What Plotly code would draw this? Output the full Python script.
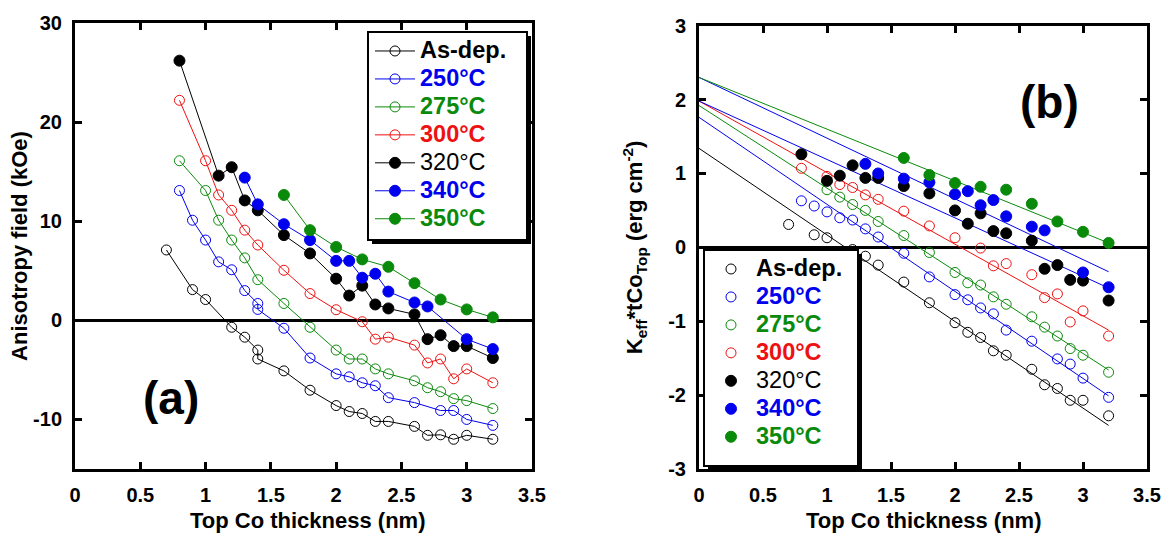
import plotly.graph_objects as go

FONT = "Liberation Sans, Arial, sans-serif"
BLACK, BLUE, GREEN, RED = "#000000", "#0000ee", "#0a8a0a", "#ee1111"

# ---------------- series meta ----------------
series_names = ["As-dep.", "250°C", "275°C", "300°C", "320°C", "340°C", "350°C"]
series_colors = [BLACK, BLUE, GREEN, RED, BLACK, BLUE, GREEN]
series_filled = [False, False, False, False, True, True, True]
series_bold = [True, True, True, True, False, True, True]

# ---------------- panel (a): anisotropy field (kOe) ----------------
a_x_asdep = [0.7, 0.9, 1.0, 1.2, 1.3, 1.4, 1.4, 1.6, 1.8, 2.0, 2.1, 2.2, 2.3, 2.4, 2.6, 2.7, 2.8, 2.9, 3.0, 3.2]
a_y_asdep = [7.1, 3.1, 2.1, -0.7, -1.7, -3.0, -3.9, -5.1, -7.05, -8.6, -9.2, -9.4, -10.2, -10.2, -10.7, -11.6, -11.55, -12.0, -11.6, -12.0]
a_x_250 = [0.8, 0.9, 1.0, 1.1, 1.2, 1.3, 1.4, 1.4, 1.6, 1.8, 2.0, 2.1, 2.2, 2.3, 2.4, 2.6, 2.8, 2.9, 3.0, 3.2]
a_y_250 = [13.1, 10.1, 8.1, 5.9, 5.1, 3.0, 1.7, 1.1, -0.8, -3.8, -5.4, -5.7, -6.3, -6.6, -7.8, -8.3, -9.1, -9.1, -10.0, -10.6]
a_x_275 = [0.8, 1.0, 1.1, 1.2, 1.3, 1.4, 1.6, 1.8, 2.0, 2.1, 2.2, 2.3, 2.4, 2.6, 2.7, 2.8, 2.9, 3.0, 3.2]
a_y_275 = [16.1, 13.1, 10.1, 8.1, 6.3, 4.1, 1.7, -0.7, -3.0, -3.9, -3.9, -4.9, -5.4, -6.1, -6.8, -7.2, -7.9, -8.1, -8.9]
a_x_300 = [0.8, 1.0, 1.1, 1.2, 1.3, 1.4, 1.6, 1.8, 2.0, 2.2, 2.3, 2.4, 2.6, 2.7, 2.8, 2.9, 3.0, 3.2]
a_y_300 = [22.2, 16.1, 12.65, 11.1, 9.1, 7.6, 5.05, 2.7, 1.07, -0.14, -1.9, -1.7, -2.5, -4.3, -3.9, -5.9, -4.9, -6.3]
a_x_320 = [0.8, 1.1, 1.2, 1.3, 1.4, 1.6, 1.8, 2.0, 2.1, 2.2, 2.3, 2.4, 2.6, 2.7, 2.8, 2.9, 3.0, 3.2]
a_y_320 = [26.2, 14.6, 15.45, 12.1, 11.1, 8.6, 6.75, 4.2, 2.5, 3.5, 1.6, 1.2, 0.6, -1.9, -1.5, -2.6, -2.6, -3.8]
a_x_340 = [1.3, 1.4, 1.6, 1.8, 2.0, 2.1, 2.2, 2.3, 2.4, 2.6, 2.7, 3.0, 3.2]
a_y_340 = [14.4, 11.7, 9.7, 8.1, 6.0, 6.0, 4.3, 4.7, 2.9, 1.8, 1.4, -1.9, -2.9]
a_x_350 = [1.6, 1.8, 2.0, 2.2, 2.4, 2.6, 2.8, 3.0, 3.2]
a_y_350 = [12.65, 9.1, 7.4, 6.15, 5.4, 3.75, 2.1, 1.1, 0.3]

# ---------------- panel (b): Keff * tCo (erg cm^-2) ----------------
b_x_asdep = [0.7, 0.9, 1.0, 1.2, 1.3, 1.4, 1.6, 1.8, 2.0, 2.1, 2.2, 2.3, 2.4, 2.6, 2.7, 2.8, 2.9, 3.0, 3.2]
b_y_asdep = [0.31, 0.17, 0.13, -0.03, -0.12, -0.24, -0.47, -0.75, -1.02, -1.15, -1.22, -1.40, -1.46, -1.65, -1.86, -1.91, -2.07, -2.07, -2.28]
b_x_250 = [0.8, 0.9, 1.0, 1.1, 1.2, 1.3, 1.4, 1.6, 1.8, 2.0, 2.1, 2.2, 2.3, 2.4, 2.6, 2.8, 2.9, 3.0, 3.2]
b_y_250 = [0.63, 0.56, 0.48, 0.40, 0.37, 0.25, 0.14, -0.08, -0.40, -0.64, -0.71, -0.82, -0.90, -1.12, -1.27, -1.51, -1.58, -1.77, -2.03]
b_x_275 = [1.0, 1.1, 1.2, 1.3, 1.4, 1.6, 1.8, 2.0, 2.1, 2.2, 2.3, 2.4, 2.6, 2.7, 2.8, 2.9, 3.0, 3.2]
b_y_275 = [0.78, 0.68, 0.58, 0.50, 0.35, 0.16, -0.07, -0.34, -0.48, -0.51, -0.67, -0.77, -0.94, -1.08, -1.20, -1.37, -1.46, -1.69]
b_x_300 = [0.8, 1.0, 1.1, 1.2, 1.3, 1.4, 1.6, 1.8, 2.0, 2.2, 2.3, 2.4, 2.6, 2.7, 2.8, 2.9, 3.0, 3.2]
b_y_300 = [1.07, 0.96, 0.85, 0.81, 0.71, 0.65, 0.49, 0.29, 0.13, -0.01, -0.25, -0.22, -0.37, -0.68, -0.63, -1.01, -0.86, -1.20]
b_x_320 = [0.8, 1.0, 1.1, 1.2, 1.3, 1.4, 1.6, 1.8, 2.0, 2.1, 2.2, 2.3, 2.4, 2.6, 2.7, 2.8, 2.9, 3.0, 3.2]
b_y_320 = [1.26, 0.90, 0.97, 1.11, 0.94, 0.94, 0.83, 0.73, 0.50, 0.32, 0.46, 0.22, 0.19, 0.09, -0.29, -0.24, -0.44, -0.45, -0.72]
b_x_340 = [1.3, 1.4, 1.6, 1.8, 2.0, 2.1, 2.2, 2.3, 2.4, 2.6, 2.7, 3.0, 3.2]
b_y_340 = [1.13, 1.00, 0.93, 0.88, 0.72, 0.76, 0.57, 0.64, 0.42, 0.28, 0.23, -0.34, -0.54]
b_x_350 = [1.6, 1.8, 2.0, 2.2, 2.4, 2.6, 2.8, 3.0, 3.2]
b_y_350 = [1.21, 0.98, 0.87, 0.82, 0.78, 0.59, 0.35, 0.21, 0.06]

# linear fits drawn in panel (b): value at x=0 and at x=3.2
fit_x = [0.0, 3.2]
fit_start = [1.34, 1.76, 1.92, 1.98, 1.98, 2.30, 2.30]
fit_end = [-2.41, -2.01, -1.66, -1.12, -0.55, -0.33, 0.06]
fit_colors = [BLACK, BLUE, GREEN, RED, BLUE, BLUE, GREEN]

# ticks
x_ticks = [0, 0.5, 1, 1.5, 2, 2.5, 3, 3.5]
x_ticktext = ["0", "0.5", "1", "1.5", "2", "2.5", "3", "3.5"]
a_y_ticks = [-10, 0, 10, 20, 30]
a_y_ticktext = ["-10", "0", "10", "20", "30"]
b_y_ticks = [-3, -2, -1, 0, 1, 2, 3]
b_y_ticktext = ["-3", "-2", "-1", "0", "1", "2", "3"]

x_title = "Top Co thickness (nm)"
a_y_title = "Anisotropy field (kOe)"
b_y_title = "K<sub>eff</sub>*tCo<sub>Top</sub> (erg cm<sup>-2</sup>)"

a_data = [(a_x_asdep, a_y_asdep), (a_x_250, a_y_250), (a_x_275, a_y_275), (a_x_300, a_y_300),
          (a_x_320, a_y_320), (a_x_340, a_y_340), (a_x_350, a_y_350)]
b_data = [(b_x_asdep, b_y_asdep), (b_x_250, b_y_250), (b_x_275, b_y_275), (b_x_300, b_y_300),
          (b_x_320, b_y_320), (b_x_340, b_y_340), (b_x_350, b_y_350)]

# ---------------- layout geometry (pixels) ----------------
W, H = 1167, 536
ML, MR, MT, MB = 75, 20, 23, 67
PW, PH = W - ML - MR, H - MT - MB


def px(xp):
    return (xp - ML) / PW


def py(yp):
    return (H - MB - yp) / PH


def legend_label(name, color, bold):
    t = f"<b>{name}</b>" if bold else name
    return f"<span style='color:{color};font-size:23.5px'>{t}</span>"


fig = go.Figure()

# panel (a) traces
for (xs, ys), name, col, filled, bold in zip(a_data, series_names, series_colors, series_filled, series_bold):
    fig.add_trace(go.Scatter(
        x=xs, y=ys, mode="lines+markers", xaxis="x", yaxis="y",
        name=legend_label(name, col, bold), legend="legend",
        line=dict(color=col, width=1),
        marker=dict(symbol="circle" if filled else "circle-open", size=11 if filled else 10,
                    color=col, line=dict(color=col, width=1)),
    ))

# panel (b) fit lines
for s, e, col in zip(fit_start, fit_end, fit_colors):
    fig.add_trace(go.Scatter(
        x=fit_x, y=[s, e], mode="lines", xaxis="x2", yaxis="y2",
        line=dict(color=col, width=1), showlegend=False, hoverinfo="skip",
    ))

# panel (b) points
for (xs, ys), name, col, filled, bold in zip(b_data, series_names, series_colors, series_filled, series_bold):
    fig.add_trace(go.Scatter(
        x=xs, y=ys, mode="markers", xaxis="x2", yaxis="y2",
        name=legend_label(name, col, bold), legend="legend2",
        marker=dict(symbol="circle" if filled else "circle-open", size=11 if filled else 10,
                    color=col, line=dict(color=col, width=1)),
    ))

tickfont = dict(family=FONT, size=20, color="black", weight="bold")
titlefont = dict(family=FONT, size=22, color="black", weight="bold")
axis_common = dict(showline=True, linewidth=3, linecolor="black", mirror="ticks",
                   ticks="inside", ticklen=7, tickwidth=2.5, tickcolor="black",
                   showgrid=False, tickfont=tickfont, ticklabelstandoff=6,
                   ticklabeloverflow="allow")

fig.update_layout(
    width=W, height=H,
    margin=dict(l=ML, r=MR, t=MT, b=MB, autoexpand=False),
    paper_bgcolor="white", plot_bgcolor="white",
    font=dict(family=FONT, color="black"),
    xaxis=dict(domain=[0, px(532)], range=[0, 3.5], tickvals=x_ticks, ticktext=x_ticktext,
               zeroline=False, anchor="y", **axis_common),
    yaxis=dict(domain=[0, 1], range=[-15, 30], tickvals=a_y_ticks, ticktext=a_y_ticktext,
               zeroline=True, zerolinewidth=3, zerolinecolor="black", anchor="x",
               title=dict(text=a_y_title, font=titlefont, standoff=0), **axis_common),
    xaxis2=dict(domain=[px(699), 1], range=[0, 3.5], tickvals=x_ticks, ticktext=x_ticktext,
                zeroline=False, anchor="y2", **axis_common),
    yaxis2=dict(domain=[0, py(25.7)], range=[-3, 3], tickvals=b_y_ticks, ticktext=b_y_ticktext,
                zeroline=True, zerolinewidth=3, zerolinecolor="black", anchor="x2",
                title=dict(text=b_y_title, font=titlefont, standoff=20), **axis_common),
    legend=dict(x=px(370), y=py(32), xanchor="left", yanchor="top",
                bgcolor="rgba(0,0,0,0)", borderwidth=0,
                font=dict(family=FONT, size=19.2, color="black"), itemwidth=40, tracegroupgap=0),
    legend2=dict(x=px(706), y=py(250), xanchor="left", yanchor="top",
                 bgcolor="rgba(0,0,0,0)", borderwidth=0,
                 font=dict(family=FONT, size=19.2, color="black"), itemwidth=40, tracegroupgap=0),
    showlegend=True,
)

# legend frames with drop shadow
shapes = []
for (x0, y0, x1, y1) in [(368, 32, 527, 240), (704, 250, 858, 466)]:
    shapes.append(dict(type="rect", xref="paper", yref="paper", layer="above",
                       x0=px(x0 + 4), x1=px(x1 + 4), y0=py(y1 + 4), y1=py(y0 + 4),
                       fillcolor="black", line=dict(width=0)))
    shapes.append(dict(type="rect", xref="paper", yref="paper", layer="above",
                       x0=px(x0), x1=px(x1), y0=py(y1), y1=py(y0),
                       fillcolor="white", line=dict(color="black", width=2)))
fig.update_layout(shapes=shapes)

# x-axis titles
for cx in (308, 924):
    fig.add_annotation(text=f"<b>{x_title}</b>", x=px(cx), y=py(520), xref="paper", yref="paper",
                       showarrow=False, font=dict(family=FONT, size=22, color="black"),
                       xanchor="center", yanchor="middle")

fig.add_annotation(text="<b>(a)</b>", x=px(171), y=py(398), xref="paper", yref="paper",
                   showarrow=False, font=dict(family=FONT, size=46, color="black"),
                   xanchor="center", yanchor="middle")
fig.add_annotation(text="<b>(b)</b>", x=px(1049), y=py(102), xref="paper", yref="paper",
                   showarrow=False, font=dict(family=FONT, size=46, color="black"),
                   xanchor="center", yanchor="middle")

fig.write_html("out.html", config={"displayModeBar": False},
               post_script="document.body.style.margin='0px';document.body.style.overflow='hidden';")
